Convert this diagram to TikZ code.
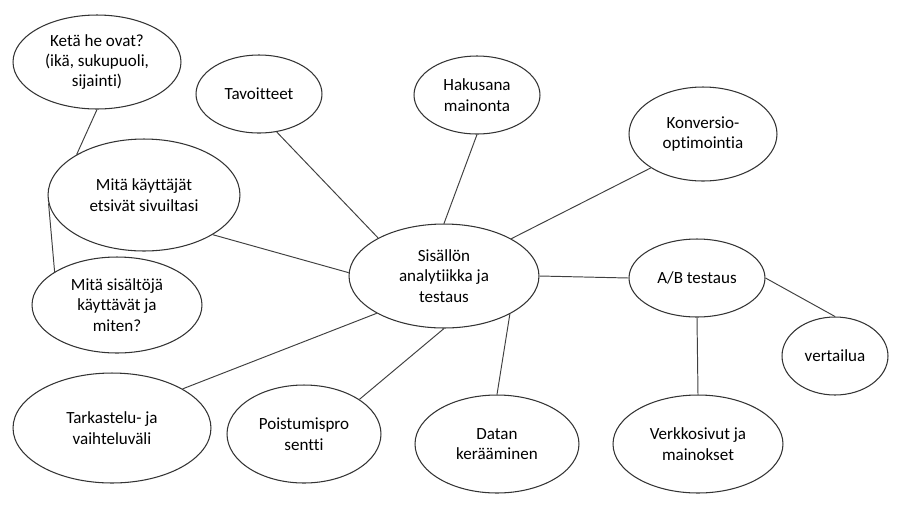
\documentclass[tikz,border=0pt]{standalone}
\usepackage{fontspec}
\setmainfont{Carlito}[Ligatures={NoCommon}]
\usetikzlibrary{shapes.geometric}

\begin{document}
\begin{tikzpicture}[x=0.02cm,y=-0.02cm]
\tikzstyle{every node}+=[inner sep=0pt]
\tikzstyle{bubble}=[ellipse, draw=black!80, line width=0.6pt, align=center, font=\fontsize{9.7}{11.6}\selectfont]
\tikzstyle{link}=[draw=black!75, line width=0.55pt]
\useasboundingbox (0,0) rectangle (900,505);

\node [bubble, minimum width=3.36cm, minimum height=1.88cm] (keta) at (97,62) {Ketä he ovat?\\(ikä, sukupuoli,\\sijainti)};
\node [bubble, minimum width=2.52cm, minimum height=1.56cm] (tav) at (259,94) {Tavoitteet};
\node [bubble, minimum width=2.52cm, minimum height=1.56cm] (haku) at (477,95) {Hakusana\\mainonta};
\node [bubble, minimum width=2.96cm, minimum height=1.88cm] (konv) at (703,134) {Konversio-\\optimointia};
\node [bubble, minimum width=3.84cm, minimum height=2.24cm] (kayt) at (144,195) {Mitä käyttäjät\\etsivät sivuiltasi};
\node [bubble, minimum width=3.80cm, minimum height=2.08cm] (sis) at (444,276) {Sisällön\\analytiikka ja\\testaus};
\node [bubble, minimum width=2.72cm, minimum height=1.56cm] (ab) at (697,278) {A/B testaus};
\node [bubble, minimum width=3.40cm, minimum height=1.92cm] (sisal) at (117,305) {Mitä sisältöjä\\käyttävät ja\\miten?};
\node [bubble, minimum width=2.12cm, minimum height=1.56cm] (vert) at (835,356) {vertailua};
\node [bubble, minimum width=3.96cm, minimum height=2.20cm] (tark) at (112,428) {Tarkastelu- ja\\vaihteluväli};
\node [bubble, minimum width=3.08cm, minimum height=1.96cm] (pois) at (304,434) {Poistumispro\\sentti};
\node [bubble, minimum width=3.28cm, minimum height=1.96cm] (datan) at (497,444) {Datan\\kerääminen};
\node [bubble, minimum width=3.40cm, minimum height=1.96cm] (verk) at (698,444) {Verkkosivut ja\\mainokset};

\draw [link] (keta.south) -- (kayt.149);
\draw [link] (kayt.185) -- (sisal.152);
\draw [link] (kayt.-30) -- (sis.178);
\draw [link] (tav.-65) -- (sis.150);
\draw [link] (haku.south) -- (sis.north);
\draw [link] (sis.29) -- (konv.213);
\draw [link] (sis.east) -- (ab.west);
\draw [link] (ab.east) -- (vert.north);
\draw [link] (ab.south) -- (verk.north);
\draw [link] (sis.-30) -- (datan.north);
\draw [link] (sis.south) -- (pois.32);
\draw [link] (sis.209) -- (tark.29);
\end{tikzpicture}
\end{document}
